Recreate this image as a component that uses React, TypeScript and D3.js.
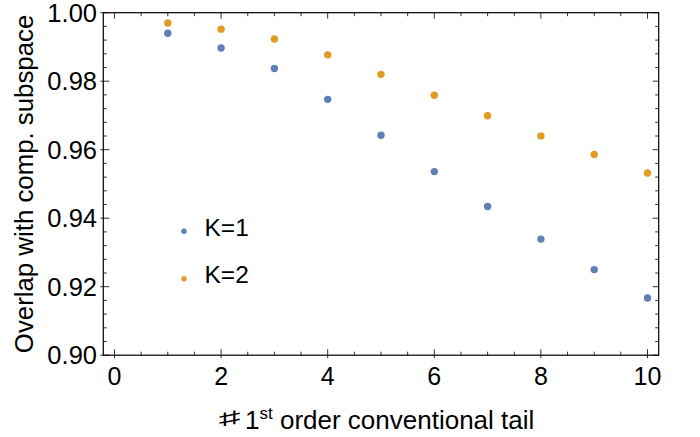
import React from "react";
import * as d3 from "d3";

const xs = [1, 2, 3, 4, 5, 6, 7, 8, 9, 10];
const k1Values = [0.994, 0.9897, 0.9837, 0.9747, 0.9642, 0.9536, 0.9434, 0.9339, 0.925, 0.9167];
const k2Values = [0.997, 0.9952, 0.9923, 0.9877, 0.982, 0.9759, 0.9699, 0.964, 0.9586, 0.9532];
const seriesNames = ["K=1", "K=2"];
const seriesColors = ["#5E81B5", "#E19C24"];
const xMajorTicks = [0, 2, 4, 6, 8, 10];
const yMajorTicks = [0.9, 0.92, 0.94, 0.96, 0.98, 1.0];
const yTickLabels = ["0.90", "0.92", "0.94", "0.96", "0.98", "1.00"];
const xLabelSharp = "\u266F";
const xLabelParts = ["1", "st", " order conventional tail"];
const yLabel = "Overlap with comp. subspace";

const W = 700;
const H = 437;
const FONT = "'Liberation Sans', Arial, Helvetica, sans-serif";

export default function App() {
  const x = d3.scaleLinear().domain([-0.21, 10.21]).range([103.3, 658.7]);
  const y = d3.scaleLinear().domain([0.9, 1.0]).range([355.2, 12.7]);
  const [x0, x1] = x.range();
  const [y0, y1] = y.range();

  const xMinor = d3.range(0, 10.001, 0.5).filter((v) => Math.abs(v / 2 - Math.round(v / 2)) > 1e-6);
  const yMinor = d3
    .range(0.9, 1.0001, 0.004)
    .filter((v) => yMajorTicks.every((m) => Math.abs(m - v) > 1e-6));

  const tickColor = "#333";
  const series = [k1Values, k2Values];
  const labelBase = 428.5;

  return (
    <svg
      width={W}
      height={H}
      style={{ position: "absolute", left: 0, top: 0, background: "#fff" }}
      fontFamily={FONT}
    >
      {/* x ticks bottom & top */}
      {xMajorTicks.map((t) => (
        <g key={"xm" + t}>
          <line x1={x(t)} x2={x(t)} y1={y0 + 3} y2={y0 - 6} stroke={tickColor} strokeWidth={1} />
          <line x1={x(t)} x2={x(t)} y1={y1} y2={y1 + 6} stroke={tickColor} strokeWidth={1} />
          <text x={x(t)} y={385} textAnchor="middle" fontSize={25} fill="#000">
            {t}
          </text>
        </g>
      ))}
      {xMinor.map((t) => (
        <g key={"xn" + t}>
          <line x1={x(t)} x2={x(t)} y1={y0} y2={y0 - 3.5} stroke={tickColor} strokeWidth={1} />
          <line x1={x(t)} x2={x(t)} y1={y1} y2={y1 + 3.5} stroke={tickColor} strokeWidth={1} />
        </g>
      ))}
      {/* y ticks left & right */}
      {yMajorTicks.map((t, i) => (
        <g key={"ym" + t}>
          <line x1={x0 - 3} x2={x0 + 6} y1={y(t)} y2={y(t)} stroke={tickColor} strokeWidth={1} />
          <line x1={x1} x2={x1 - 6} y1={y(t)} y2={y(t)} stroke={tickColor} strokeWidth={1} />
          <text x={97} y={y(t)} dy="0.36em" textAnchor="end" fontSize={25.5} fill="#000">
            {yTickLabels[i]}
          </text>
        </g>
      ))}
      {yMinor.map((t) => (
        <g key={"yn" + t}>
          <line x1={x0} x2={x0 + 3.5} y1={y(t)} y2={y(t)} stroke={tickColor} strokeWidth={1} />
          <line x1={x1} x2={x1 - 3.5} y1={y(t)} y2={y(t)} stroke={tickColor} strokeWidth={1} />
        </g>
      ))}
      {/* frame */}
      <rect x={x0} y={y1} width={x1 - x0} height={y0 - y1} fill="none" stroke="#000" strokeWidth={1.2} />

      {/* points */}
      {series.map((vals, si) =>
        vals.map((v, i) => (
          <circle key={si + "-" + i} cx={x(xs[i])} cy={y(v)} r={3.7} fill={seriesColors[si]} />
        ))
      )}

      {/* legend */}
      {seriesNames.map((name, i) => (
        <g key={name}>
          <circle cx={184} cy={231.3 + i * 47.4} r={2.7} fill={seriesColors[i]} />
          <text x={204.5} y={236 + i * 47.4} fontSize={24.5} fill="#000">
            {name}
          </text>
        </g>
      ))}

      {/* axis labels */}
      <text
        transform={`translate(230, ${labelBase - 5}) scale(1.8, 0.75)`}
        textAnchor="middle"
        fontSize={25}
        fill="#000"
      >
        {xLabelSharp}
      </text>
      <text x={245} y={labelBase} textAnchor="start" fontSize={26} fill="#000">
        {xLabelParts[0]}
        <tspan fontSize={17} dy={-10}>
          {xLabelParts[1]}
        </tspan>
        <tspan dy={10}>{xLabelParts[2]}</tspan>
      </text>
      <text
        transform={`translate(33, ${(y0 + y1) / 2}) rotate(-90)`}
        textAnchor="middle"
        fontSize={25.8}
        fill="#000"
      >
        {yLabel}
      </text>
    </svg>
  );
}
